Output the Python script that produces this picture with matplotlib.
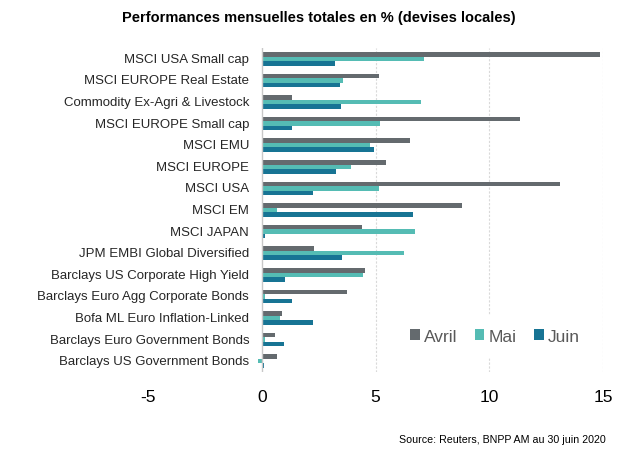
import numpy as np
import matplotlib
matplotlib.use('Agg')
from matplotlib import pyplot as plt

plt.rcParams['font.family'] = ['Liberation Sans Narrow', 'Liberation Sans', 'DejaVu Sans']
plt.rcParams['axes.unicode_minus'] = False

categories = ['MSCI USA Small cap', 'MSCI EUROPE Real Estate', 'Commodity Ex-Agri & Livestock',
              'MSCI EUROPE Small cap', 'MSCI EMU', 'MSCI EUROPE', 'MSCI USA', 'MSCI EM', 'MSCI JAPAN',
              'JPM EMBI Global Diversified', 'Barclays US Corporate High Yield',
              'Barclays Euro Agg Corporate Bonds', 'Bofa ML Euro Inflation-Linked',
              'Barclays Euro Government Bonds', 'Barclays US Government Bonds']
avril = [14.85, 5.15, 1.35, 11.37, 6.51, 5.46, 13.13, 8.81, 4.4, 2.28, 4.53, 3.74, 0.91, 0.6, 0.65]
mai = [7.12, 3.56, 7.0, 5.19, 4.75, 3.91, 5.15, 0.65, 6.74, 6.25, 4.44, 0.16, 0.82, 0.16, -0.18]
juin = [3.2, 3.43, 3.47, 1.35, 4.93, 3.25, 2.24, 6.65, 0.16, 3.51, 1.0, 1.35, 2.24, 0.96, 0.12]
series = {'Avril': avril, 'Mai': mai, 'Juin': juin}
colors = {'Avril': '#646a6e', 'Mai': '#55bcb4', 'Juin': '#177494'}
ticks = [-5, 0, 5, 10, 15]

fig = plt.figure(figsize=(6.19, 4.56), dpi=100)
ax = fig.add_axes([148 / 619, 1 - 373 / 456, 455 / 619, 324 / 456])

y = np.arange(len(categories))
h = 0.21
for i, (name, vals) in enumerate(series.items()):
    ax.barh(y + (i - 1) * h, vals, height=h, color=colors[name], label=name, zorder=3)

ax.set_xlim(-5, 15)
ax.set_ylim(len(categories) - 0.5, -0.5)
ax.set_xticks(ticks)
ax.tick_params(axis='x', length=0, labelsize=12.5, pad=12, colors='#000000')
ax.set_yticks([])
for t in ticks[2:]:
    ax.axvline(t, color='#d9d9d9', linestyle=(0, (2, 1.5)), linewidth=0.8, zorder=0)
for s in ax.spines.values():
    s.set_visible(False)
ax.axvline(0, color='#c8c8c8', linewidth=1, zorder=4)

for yi, lab in zip(y, categories):
    ax.text(-0.55, yi, lab, ha='right', va='center', fontsize=9.5, color='#262626', zorder=5)

leg = ax.legend(ncol=3, loc='center', bbox_to_anchor=(495 / 619, 1 - 337 / 456),
                bbox_transform=fig.transFigure, frameon=True, fontsize=12.5,
                handlelength=0.55, handleheight=0.55, handletextpad=0.25, columnspacing=1.0,
                borderpad=0.8)
leg.get_frame().set_edgecolor('none')
leg.get_frame().set_facecolor('white')
leg.get_frame().set_alpha(1)
leg.set_zorder(6)
for t in leg.get_texts():
    t.set_color('#595959')

fig.text(319 / 619, 1 - 18 / 456, 'Performances mensuelles totales en % (devises locales)',
         ha='center', va='center', fontsize=10.5, fontweight='bold')
fig.text(606 / 619, 1 - 440 / 456, 'Source: Reuters, BNPP AM au 30 juin 2020',
         ha='right', va='center', fontsize=7.7)

fig.savefig('out.png', dpi=100)
